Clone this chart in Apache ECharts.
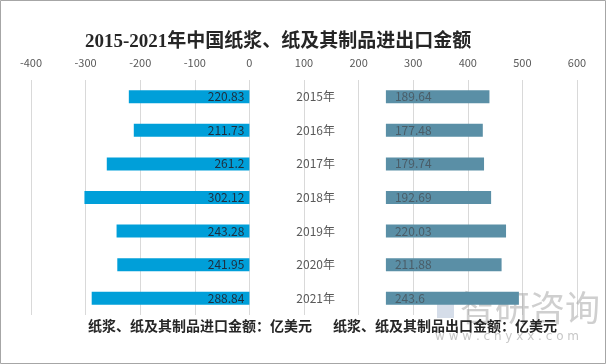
<!DOCTYPE html>
<html><head><meta charset="utf-8">
<script src="https://cdn.jsdelivr.net/npm/echarts@6/dist/echarts.min.js"></script>
<style>html,body{margin:0;padding:0;background:#fff}#c{width:606px;height:364px}</style>
</head><body><div id="c"></div>
<script>
const years = ['2015年','2016年','2017年','2018年','2019年','2020年','2021年'];
const importValues = [220.83, 211.73, 261.2, 302.12, 243.28, 241.95, 288.84];
const exportValues = [189.64, 177.48, 179.74, 192.69, 220.03, 211.88, 243.6];
const exportOffset = 250;
const importName = '纸浆、纸及其制品进口金额：亿美元';
const exportName = '纸浆、纸及其制品出口金额：亿美元';
const titleText = '2015-2021年中国纸浆、纸及其制品进出口金额';

const chart = echarts.init(document.getElementById('c'));
chart.setOption({
  animation: false,
  backgroundColor: '#fff',
  title: {
    text: titleText, left: 80, top: 28,
    textStyle: {fontFamily: "'Liberation Serif','Noto Sans CJK SC'", fontSize: 19, fontWeight: 'bold', color: '#262626'}
  },
  legend: {
    data: [importName, exportName], left: 78, top: 314, icon: 'none', itemWidth: 0, itemGap: 16,
    textStyle: {fontFamily: "'Noto Sans CJK SC'", fontSize: 14, fontWeight: 'bold', color: '#262626'},
    selectedMode: false
  },
  grid: {left: 31, right: 29, top: 80, bottom: 49},
  xAxis: {
    type: 'value', position: 'top', min: -400, max: 600, interval: 100,
    axisLine: {show: false}, axisTick: {show: false},
    axisLabel: {color: '#595959', fontSize: 11, margin: 12, fontFamily: "'Noto Sans CJK SC'"},
    splitLine: {lineStyle: {color: '#d9d9d9'}}
  },
  yAxis: {
    type: 'category', data: years, inverse: true, offset: -312,
    axisLine: {show: false}, axisTick: {show: false},
    axisLabel: {color: '#595959', fontSize: 12, margin: 8, fontFamily: "'Noto Sans CJK SC'"}
  },
  graphic: [
    {type: 'rect', shape: {x: 0.5, y: 0.5, width: 605, height: 363}, style: {fill: 'none', stroke: '#a6a6a6', lineWidth: 1}, z: 100},
    {type: 'rect', shape: {x: 437, y: 298, width: 17, height: 20}, style: {fill: 'rgba(150,170,200,0.4)'}, z: 1},
    {type: 'text', left: 460, top: 290, style: {text: '智研咨询', fontSize: 35, fill: 'rgba(160,160,160,0.5)', fontFamily: "'Noto Sans CJK SC'"}, z: 1},
    {type: 'text', left: 435, top: 331, style: {text: 'w w w . c h y x x . c o m', fontSize: 12, fill: 'rgba(160,160,160,0.6)', fontFamily: "'DejaVu Sans'"}, z: 1}
  ],
  series: [
    {
      name: importName, type: 'bar', barWidth: 13, barGap: '-100%',
      data: importValues.map(v => -v),
      itemStyle: {color: '#009fd9'},
      label: {show: true, position: 'insideRight', color: '#1f2d3d', fontSize: 12, fontFamily: "'Noto Sans CJK SC'",
        formatter: p => importValues[p.dataIndex]}
    },
    {
      name: 'offset', type: 'bar', stack: 'exp', barWidth: 13,
      data: years.map(() => exportOffset),
      itemStyle: {color: 'transparent'}, silent: true
    },
    {
      name: exportName, type: 'bar', stack: 'exp', barWidth: 13,
      data: exportValues,
      itemStyle: {color: '#5a8fa6'},
      label: {show: true, position: 'insideLeft', color: '#4a5d68', fontSize: 12, fontFamily: "'Noto Sans CJK SC'", distance: 9}
    }
  ]
});
</script></body></html>
